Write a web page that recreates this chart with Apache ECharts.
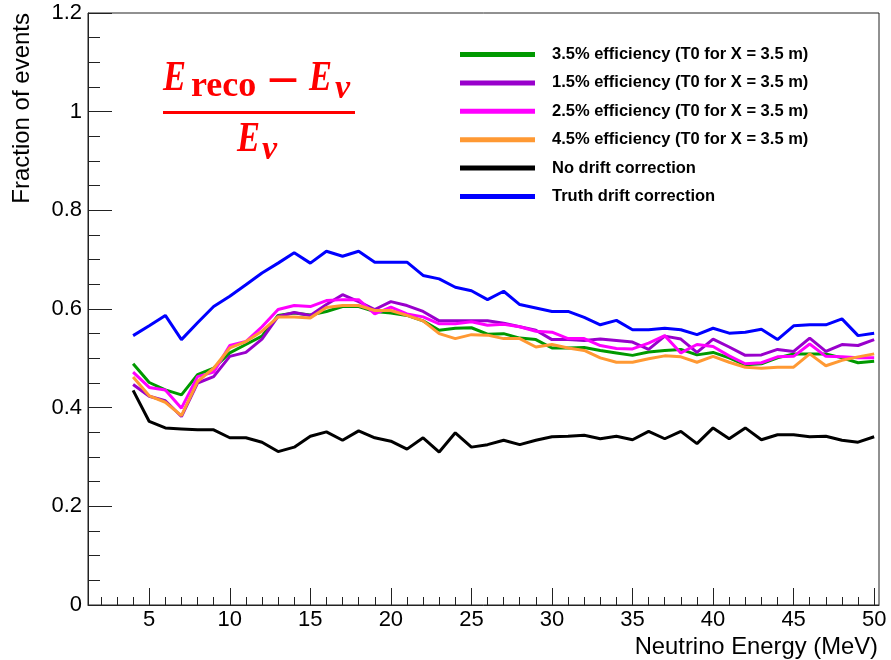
<!DOCTYPE html>
<html>
<head>
<meta charset="utf-8">
<title>Fraction of events vs neutrino energy</title>
<script src="https://cdn.jsdelivr.net/npm/echarts@6/dist/echarts.min.js"></script>
<style>
  html, body { margin: 0; padding: 0; background: #fff; }
  #chart { width: 891px; height: 660px; }
</style>
</head>
<body>
<div id="chart"></div>
<script>
// neutrino energy (MeV), one point per bin
const energy = [4, 5, 6, 7, 8, 9, 10, 11, 12, 13, 14, 15, 16, 17, 18, 19, 20, 21, 22, 23, 24, 25, 26, 27,
  28, 29, 30, 31, 32, 33, 34, 35, 36, 37, 38, 39, 40, 41, 42, 43, 44, 45, 46, 47, 48, 49, 50]

// fraction of events
const eff35 = [0.489, 0.451, 0.436, 0.426, 0.467, 0.480, 0.511, 0.528, 0.545, 0.587, 0.592, 0.588, 0.595, 0.605,
  0.605, 0.595, 0.592, 0.587, 0.576, 0.557, 0.561, 0.562, 0.549, 0.550, 0.541, 0.538, 0.521, 0.521, 0.522,
  0.516, 0.511, 0.506, 0.513, 0.516, 0.518, 0.507, 0.512, 0.501, 0.487, 0.489, 0.501, 0.509, 0.509, 0.509,
  0.501, 0.491, 0.494]
const eff15 = [0.447, 0.423, 0.414, 0.382, 0.450, 0.463, 0.504, 0.512, 0.539, 0.585, 0.593, 0.587, 0.609, 0.629,
  0.615, 0.599, 0.615, 0.607, 0.595, 0.576, 0.576, 0.576, 0.576, 0.571, 0.564, 0.557, 0.538, 0.538, 0.536,
  0.539, 0.536, 0.533, 0.518, 0.545, 0.539, 0.512, 0.539, 0.523, 0.506, 0.507, 0.518, 0.514, 0.541, 0.514,
  0.528, 0.526, 0.538]
const eff25 = [0.472, 0.441, 0.436, 0.399, 0.463, 0.472, 0.526, 0.534, 0.564, 0.599, 0.607, 0.605, 0.617, 0.619,
  0.619, 0.590, 0.604, 0.590, 0.584, 0.570, 0.570, 0.574, 0.567, 0.569, 0.564, 0.555, 0.553, 0.540, 0.540,
  0.526, 0.520, 0.519, 0.531, 0.546, 0.511, 0.528, 0.524, 0.505, 0.489, 0.491, 0.503, 0.504, 0.529, 0.504,
  0.503, 0.501, 0.501]
const eff45 = [0.462, 0.424, 0.411, 0.384, 0.453, 0.480, 0.521, 0.534, 0.555, 0.584, 0.584, 0.582, 0.603, 0.607,
  0.607, 0.597, 0.597, 0.587, 0.576, 0.550, 0.540, 0.548, 0.547, 0.540, 0.540, 0.523, 0.528, 0.521, 0.516,
  0.501, 0.492, 0.492, 0.499, 0.505, 0.503, 0.492, 0.504, 0.492, 0.482, 0.480, 0.482, 0.482, 0.509, 0.485,
  0.496, 0.503, 0.509]
const noDrift = [0.435, 0.372, 0.359, 0.357, 0.355, 0.355, 0.339, 0.339, 0.330, 0.311, 0.320, 0.342, 0.351, 0.334,
  0.353, 0.339, 0.332, 0.316, 0.339, 0.310, 0.349, 0.320, 0.325, 0.334, 0.325, 0.334, 0.341, 0.342, 0.344,
  0.337, 0.342, 0.335, 0.352, 0.337, 0.352, 0.327, 0.359, 0.337, 0.359, 0.335, 0.345, 0.345, 0.341, 0.342,
  0.334, 0.330, 0.341]
const truthDrift = [0.546, 0.566, 0.587, 0.538, 0.572, 0.605, 0.626, 0.649, 0.673, 0.693, 0.714, 0.693, 0.717,
  0.707, 0.717, 0.695, 0.695, 0.695, 0.668, 0.661, 0.644, 0.637, 0.619, 0.636, 0.609, 0.602, 0.595, 0.595,
  0.583, 0.568, 0.577, 0.558, 0.558, 0.561, 0.558, 0.548, 0.561, 0.551, 0.553, 0.559, 0.538, 0.566, 0.568,
  0.568, 0.580, 0.546, 0.551]

const seriesNames = [
  '3.5% efficiency (T0 for X = 3.5 m)',
  '1.5% efficiency (T0 for X = 3.5 m)',
  '2.5% efficiency (T0 for X = 3.5 m)',
  '4.5% efficiency (T0 for X = 3.5 m)',
  'No drift correction',
  'Truth drift correction'
]

// axis ticks
const majorTicks = [5, 10, 15, 20, 25, 30, 35, 40, 45, 50]
const minorTicks = [2, 3, 4, 6, 7, 8, 9, 11, 12, 13, 14, 16, 17, 18, 19, 21, 22, 23, 24, 26, 27, 28, 29,
  31, 32, 33, 34, 36, 37, 38, 39, 41, 42, 43, 44, 46, 47, 48, 49]

const sans = '"Liberation Sans", Arial, Helvetica, sans-serif'
const serif = '"Liberation Serif", "DejaVu Serif", serif'
const axisColor = '#222'
const red = '#ff0000'

const colors = ['#009900', '#9900cc', '#ff00ff', '#ff9933', '#000000', '#0000ff']
const values = [eff35, eff15, eff25, eff45, noDrift, truthDrift]

function toPoints(ys) {
  return energy.map((x, i) => [x, ys[i]])
}

const chart = echarts.init(document.getElementById('chart'))

// plain text placed by hand (axis titles, formula pieces)
function label(text, x, y, font, fill, align, extra) {
  return Object.assign({
    type: 'text',
    x: x,
    y: y,
    style: {
      text: text,
      font: font,
      fill: fill,
      align: align,
      textAlign: align,
      verticalAlign: 'middle',
      textVerticalAlign: 'middle'
    }
  }, extra || {})
}

const eFont = 'italic bold 42px ' + serif
const nuFont = 'italic bold 34px ' + serif
const narrow = { scaleX: 0.82 }

chart.setOption({
  animation: false,
  color: colors,
  grid: {
    left: 88,
    top: 13,
    width: 791,
    height: 592,
    show: true,
    borderColor: axisColor,
    borderWidth: 1
  },
  legend: {
    orient: 'vertical',
    left: 460,
    top: 46,
    padding: 0,
    itemWidth: 75,
    itemHeight: 5,
    itemGap: 11.4,
    icon: 'rect',
    data: seriesNames,
    textStyle: {
      fontFamily: sans,
      fontSize: 16.5,
      fontWeight: 'bold',
      color: '#000',
      lineHeight: 16,
      padding: [0, 0, 0, 12]
    }
  },
  xAxis: [
    {
      type: 'value',
      min: 1.2,
      max: 50.3,
      position: 'bottom',
      axisLine: { show: true, lineStyle: { color: axisColor, width: 1 } },
      axisTick: { show: true, inside: true, length: 17, customValues: majorTicks, lineStyle: { color: axisColor } },
      axisLabel: { customValues: majorTicks, fontFamily: sans, fontSize: 22, color: '#000', margin: 4 },
      splitLine: { show: false }
    },
    {
      type: 'value',
      min: 1.2,
      max: 50.3,
      position: 'bottom',
      axisLine: { show: false },
      axisTick: { show: true, inside: true, length: 8, customValues: minorTicks, lineStyle: { color: axisColor } },
      axisLabel: { show: false },
      splitLine: { show: false }
    }
  ],
  yAxis: {
    type: 'value',
    min: 0,
    max: 1.2,
    interval: 0.2,
    axisLine: { show: true, lineStyle: { color: axisColor, width: 1 } },
    axisTick: { show: true, inside: true, length: 24, lineStyle: { color: axisColor } },
    minorTick: { show: true, splitNumber: 4, length: 12, lineStyle: { color: axisColor } },
    axisLabel: { fontFamily: sans, fontSize: 22, color: '#000', margin: 6 },
    splitLine: { show: false }
  },
  graphic: [
    label('Fraction of events', 22, 13, '24px ' + sans, '#000', 'right', { rotation: Math.PI / 2 }),
    label('Neutrino Energy (MeV)', 878, 647, '23.8px ' + sans, '#000', 'right'),
    label('E', 163, 79, eFont, red, 'left', narrow),
    label('reco', 191, 87, 'bold 36px ' + serif, red, 'left'),
    label('\u2013', 270, 80, 'bold 52px ' + serif, red, 'left'),
    label('E', 309, 79, eFont, red, 'left', narrow),
    label('\u03bd', 335, 89, nuFont, red, 'left'),
    {
      type: 'rect',
      shape: { x: 163, y: 111, width: 192, height: 3 },
      style: { fill: red }
    },
    label('E', 237, 140, eFont, red, 'left', narrow),
    label('\u03bd', 262, 150, nuFont, red, 'left')
  ],
  series: seriesNames.map((name, i) => ({
    name: name,
    type: 'line',
    xAxisIndex: 0,
    symbol: 'none',
    data: toPoints(values[i]),
    lineStyle: { width: 3, color: colors[i] },
    itemStyle: { color: colors[i] }
  }))
})
</script>
</body>
</html>
